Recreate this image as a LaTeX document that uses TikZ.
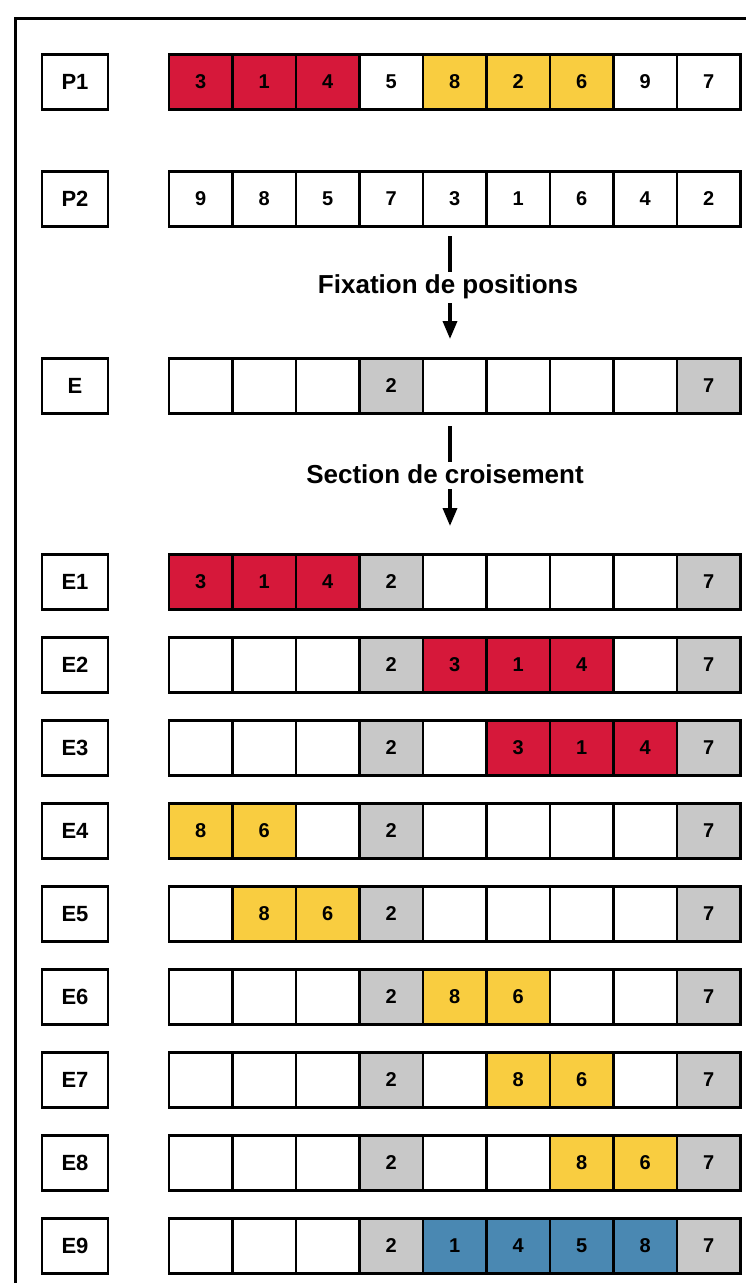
\documentclass[tikz,border=0pt]{standalone}
\usepackage{fontspec}
\setmainfont{Liberation Sans}
\usetikzlibrary{arrows.meta}
\definecolor{cred}{RGB}{214,24,58}
\definecolor{cyel}{RGB}{249,205,64}
\definecolor{cgray}{RGB}{200,200,200}
\definecolor{cblue}{RGB}{74,136,178}
\newcommand\cellrow[3]{%
  \foreach \v/\c [count=\i] in {#3} {
    \node[cellbox, fill=\c] (#1-\i) at ({169+63.5*(\i-0.5)}, #2) {\v};
  }}
\begin{document}
\begin{tikzpicture}[x=1pt,y=-1pt,
  cellbox/.style={draw=black, line width=2.5pt, minimum width=63.5pt, minimum height=55pt,
    inner sep=0pt, font=\bfseries\fontsize{20}{20}\selectfont},
  labelbox/.style={draw=black, line width=2.5pt, minimum width=66pt, minimum height=55pt,
    inner sep=0pt, font=\bfseries\fontsize{22}{22}\selectfont, fill=white},
  steptext/.style={font=\bfseries\fontsize{26}{26}\selectfont, inner sep=0pt},
  stem/.style={line width=3.5pt},
  arrowline/.style={line width=3.5pt, -{Triangle[length=18pt,width=14pt]}}]
\useasboundingbox (0,0) rectangle (745,1283);
\fill[white] (0,0) rectangle (745,1283);
\draw[line width=3pt] (15,1290) -- (15,18) -- (750,18);

% labels
\node[labelbox] (lP1) at (75,82) {P1};
\node[labelbox] (lP2) at (75,199) {P2};
\node[labelbox] (lE) at (75,386) {E};
\foreach \k in {1,...,9} {
  \node[labelbox] (lE\k) at (75,{582+83*(\k-1)}) {E\k};
}

% rows
\cellrow{P1}{82}{3/cred,1/cred,4/cred,5/white,8/cyel,2/cyel,6/cyel,9/white,7/white}
\cellrow{P2}{199}{9/white,8/white,5/white,7/white,3/white,1/white,6/white,4/white,2/white}
\cellrow{E}{386}{{}/white,{}/white,{}/white,2/cgray,{}/white,{}/white,{}/white,{}/white,7/cgray}
\cellrow{E1}{582}{3/cred,1/cred,4/cred,2/cgray,{}/white,{}/white,{}/white,{}/white,7/cgray}
\cellrow{E2}{665}{{}/white,{}/white,{}/white,2/cgray,3/cred,1/cred,4/cred,{}/white,7/cgray}
\cellrow{E3}{748}{{}/white,{}/white,{}/white,2/cgray,{}/white,3/cred,1/cred,4/cred,7/cgray}
\cellrow{E4}{831}{8/cyel,6/cyel,{}/white,2/cgray,{}/white,{}/white,{}/white,{}/white,7/cgray}
\cellrow{E5}{914}{{}/white,8/cyel,6/cyel,2/cgray,{}/white,{}/white,{}/white,{}/white,7/cgray}
\cellrow{E6}{997}{{}/white,{}/white,{}/white,2/cgray,8/cyel,6/cyel,{}/white,{}/white,7/cgray}
\cellrow{E7}{1080}{{}/white,{}/white,{}/white,2/cgray,{}/white,8/cyel,6/cyel,{}/white,7/cgray}
\cellrow{E8}{1163}{{}/white,{}/white,{}/white,2/cgray,{}/white,{}/white,8/cyel,6/cyel,7/cgray}
\cellrow{E9}{1246}{{}/white,{}/white,{}/white,2/cgray,1/cblue,4/cblue,5/cblue,8/cblue,7/cgray}

% arrows
\coordinate (f1) at (450,236);
\coordinate (f2) at (450,272);
\node[steptext] (fixtxt) at (448,287) {Fixation de positions};
\coordinate (f3) at (450,303);
\coordinate (f4) at (450,339);
\draw[stem] (f1) -- (f2);
\draw[arrowline] (f3) -- (f4);

\coordinate (s1) at (450,426);
\coordinate (s2) at (450,462);
\node[steptext] (sectxt) at (445,474) {Section de croisement};
\coordinate (s3) at (450,489);
\coordinate (s4) at (450,526);
\draw[stem] (s1) -- (s2);
\draw[arrowline] (s3) -- (s4);
\end{tikzpicture}
\end{document}
